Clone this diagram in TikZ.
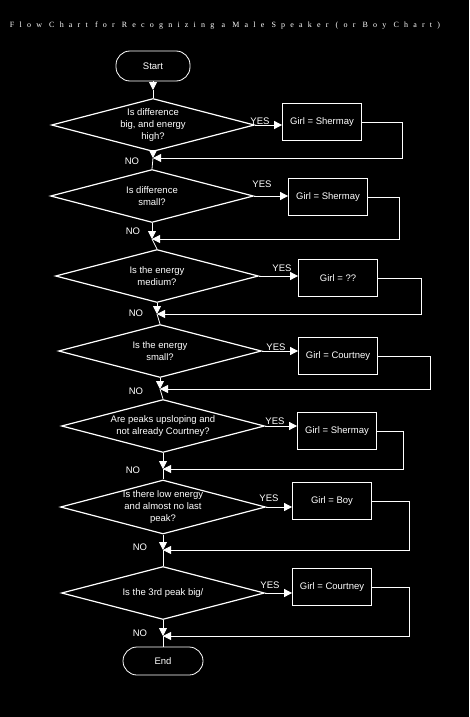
\documentclass[tikz,border=0pt]{standalone}
\usepackage{fontspec}
\setmainfont{Liberation Sans}
\newfontfamily\titlefont{Liberation Serif}[LetterSpace=65]
\usetikzlibrary{shapes.geometric,arrows.meta}
\tikzset{
  every node/.style={text=white,font=\fontsize{9.5}{12}\selectfont},
  term/.style={draw=white,line width=0.8pt,rounded corners=14pt,minimum width=74pt,minimum height=30pt,inner sep=0pt},
  test/.style={draw=white,line width=1.2pt,diamond,aspect=3.8,minimum width=203pt,minimum height=53pt,inner sep=0pt,align=center},
  girl/.style={draw=white,line width=0.8pt,rectangle,minimum width=79pt,minimum height=37pt,inner sep=0pt},
  lbl/.style={inner sep=0pt},
  flow/.style={draw=white,line width=0.8pt},
  arr/.style={flow,-{Triangle[length=8pt,width=8pt]}}
}
\begin{document}
\begin{tikzpicture}[x=1pt,y=-1pt]
\fill[black] (0,0) rectangle (469,717);
\useasboundingbox (0,0) rectangle (469,717);
\node[font=\titlefont\fontsize{8}{9}\selectfont] (title) at (225,26) {Flow Chart for Recognizing a Male Speaker (or Boy Chart)};
\node[term] (start) at (153,66) {Start};
\node[test] (d1) at (153,125) {Is difference\\big, and energy\\high?};
\node[test] (d2) at (152,196) {Is difference\\small?};
\node[test] (d3) at (157,276) {Is the energy\\medium?};
\node[test] (d4) at (160,351) {Is the energy\\small?};
\node[test] (d5) at (163,426) {Are peaks upsloping and\\not already Courtney?};
\node[test] (d6) at (163,507) {Is there low energy\\and almost no last\\peak?};
\node[test] (d7) at (163,593) {Is the 3rd peak big/};
\node[term,minimum width=80pt,minimum height=28pt] (end) at (163,661) {End};
\node[girl] (b1) at (322,122) {Girl = Shermay};
\node[girl] (b2) at (328,197) {Girl = Shermay};
\node[girl] (b3) at (338,278) {Girl = ??};
\node[girl] (b4) at (338,356) {Girl = Courtney};
\node[girl] (b5) at (337,431) {Girl = Shermay};
\node[girl] (b6) at (332,501) {Girl = Boy};
\node[girl] (b7) at (332,587) {Girl = Courtney};
% junctions on the NO line
\coordinate (j0) at (153,90);
\coordinate (j1) at (153,158);
\coordinate (j2) at (152,239);
\coordinate (j3) at (157,314);
\coordinate (j4) at (160,389);
\coordinate (j5) at (163,469);
\coordinate (j6) at (163,550);
\coordinate (j7) at (163,636);
\draw[arr] (start) -- (j0);
\draw[flow] (j0) -- (d1.north);
\draw[arr] (d1.south) -- (j1);
\draw[flow] (j1) -- (d2.north);
\draw[arr] (d2.south) -- (j2);
\draw[flow] (j2) -- (d3.north);
\draw[arr] (d3.south) -- (j3);
\draw[flow] (j3) -- (d4.north);
\draw[arr] (d4.south) -- (j4);
\draw[flow] (j4) -- (d5.north);
\draw[arr] (d5.south) -- (j5);
\draw[flow] (j5) -- (d6.north);
\draw[arr] (d6.south) -- (j6);
\draw[flow] (j6) -- (d7.north);
\draw[arr] (d7.south) -- (j7);
\draw[flow] (j7) -- (end.north);
% YES branches
\draw[arr] (d1.east) -- (d1.east -| b1.west);
\draw[arr] (d2.east) -- (d2.east -| b2.west);
\draw[arr] (d3.east) -- (d3.east -| b3.west);
\draw[arr] (d4.east) -- (d4.east -| b4.west);
\draw[arr] (d5.east) -- (d5.east -| b5.west);
\draw[arr] (d6.east) -- (d6.east -| b6.west);
\draw[arr] (d7.east) -- (d7.east -| b7.west);
% back to the main line
\draw[arr] (b1.east) -- ++(40,0) |- (j1);
\draw[arr] (b2.east) -- ++(31,0) |- (j2);
\draw[arr] (b3.east) -- ++(43,0) |- (j3);
\draw[arr] (b4.east) -- ++(52,0) |- (j4);
\draw[arr] (b5.east) -- ++(26,0) |- (j5);
\draw[arr] (b6.east) -- ++(37,0) |- (j6);
\draw[arr] (b7.east) -- ++(37,0) |- (j7);
\node[lbl] (y1) at (260,121) {YES};
\node[lbl] (y2) at (262,184) {YES};
\node[lbl] (y3) at (282,268) {YES};
\node[lbl] (y4) at (276,347) {YES};
\node[lbl] (y5) at (275,421) {YES};
\node[lbl] (y6) at (269,498) {YES};
\node[lbl] (y7) at (270,585) {YES};
\node[lbl] (n1) at (132,161) {NO};
\node[lbl] (n2) at (133,231) {NO};
\node[lbl] (n3) at (136,313) {NO};
\node[lbl] (n4) at (136,391) {NO};
\node[lbl] (n5) at (133,470) {NO};
\node[lbl] (n6) at (140,547) {NO};
\node[lbl] (n7) at (140,633) {NO};
\end{tikzpicture}
\end{document}
